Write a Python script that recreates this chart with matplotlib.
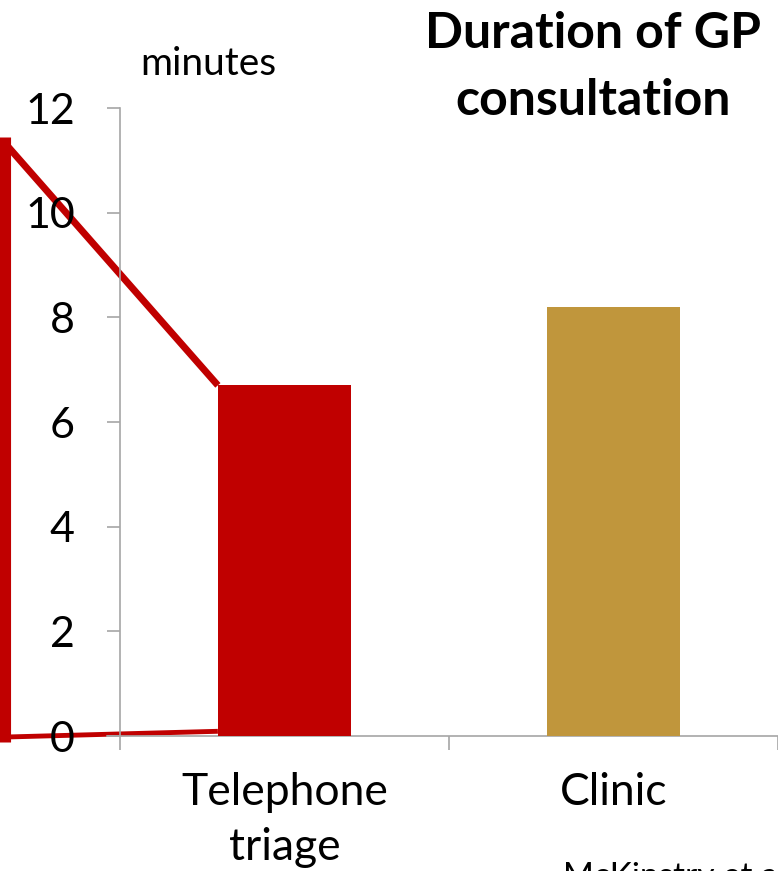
import matplotlib
matplotlib.use("Agg")
import matplotlib.pyplot as plt

categories = ["Telephone\ntriage", "Clinic"]
values = [6.7, 8.2]
colors = ["#C00000", "#C0963C"]
yticks = [0, 2, 4, 6, 8, 10, 12]

FONT = "Lato"
plt.rcParams["font.family"] = [FONT, "DejaVu Sans"]

W, H = 778, 871
fig = plt.figure(figsize=(W / 100, H / 100), dpi=100)
ax_left, ax_right, ax_top, ax_bot = 120, 778, 108, 736
ax = fig.add_axes([ax_left / W, (H - ax_bot) / H, (ax_right - ax_left) / W, (ax_bot - ax_top) / H])

xs = list(range(len(categories)))
bw = 0.405
ax.bar(xs, values, width=bw, color=colors, zorder=3)

ax.set_xlim(-0.5, 1.5)
ax.set_ylim(0, 12)
ax.set_yticks(yticks)
ax.set_yticklabels([str(v) for v in yticks])

grey = "#A6A6A6"
for s in ["top", "right"]:
    ax.spines[s].set_visible(False)
ax.spines["left"].set_color(grey)
ax.spines["bottom"].set_color(grey)
ax.spines["left"].set_linewidth(1.2)
ax.spines["bottom"].set_linewidth(1.2)

ax.tick_params(axis="y", length=9.5, width=1.2, color=grey, labelsize=31, pad=23)
ax.set_xticks([-0.5, 0.5, 1.5], minor=False)
ax.set_xticklabels(["", "", ""])
ax.tick_params(axis="x", length=10, width=1.2, color=grey)
ax.set_xticks(xs, minor=True)
ax.set_xticklabels(categories, minor=True)
ax.tick_params(axis="x", which="minor", length=0, labelsize=32, pad=26)
for t in ax.get_xticklabels(minor=True):
    t.set_linespacing(1.42)

# extend x-axis line slightly to the left like the original
ax.plot([-0.5 - 13 / 329, -0.5], [0, 0], color=grey, lw=1.2, clip_on=False, zorder=2)

# red callout connector from bar
red = "#C00000"
bl = xs[0] - bw / 2
xl = -0.85
ax.plot([bl, xl], [values[0], 11.33], color=red, lw=5, clip_on=False, zorder=1,
        solid_capstyle="butt")
ax.plot([xl, xl], [11.45, -0.11], color=red, lw=8, clip_on=False, zorder=1,
        solid_capstyle="butt")
ax.plot([xl, bl], [-0.02, 0.09], color=red, lw=3.5, clip_on=False, zorder=1,
        solid_capstyle="butt")

fig.text(208 / W, 1 - 75 / H, "minutes", fontsize=28, ha="center", va="baseline")
fig.text(593 / W, 1 - 48 / H, "Duration of GP", fontsize=36,
         fontweight="bold", ha="center", va="baseline")
fig.text(593 / W, 1 - 115 / H, "consultation", fontsize=36,
         fontweight="bold", ha="center", va="baseline")
fig.text(563 / W, 1 - 886 / H, "McKinstry et al", fontsize=24, ha="left", va="baseline")

fig.savefig("out.png", dpi=100)
